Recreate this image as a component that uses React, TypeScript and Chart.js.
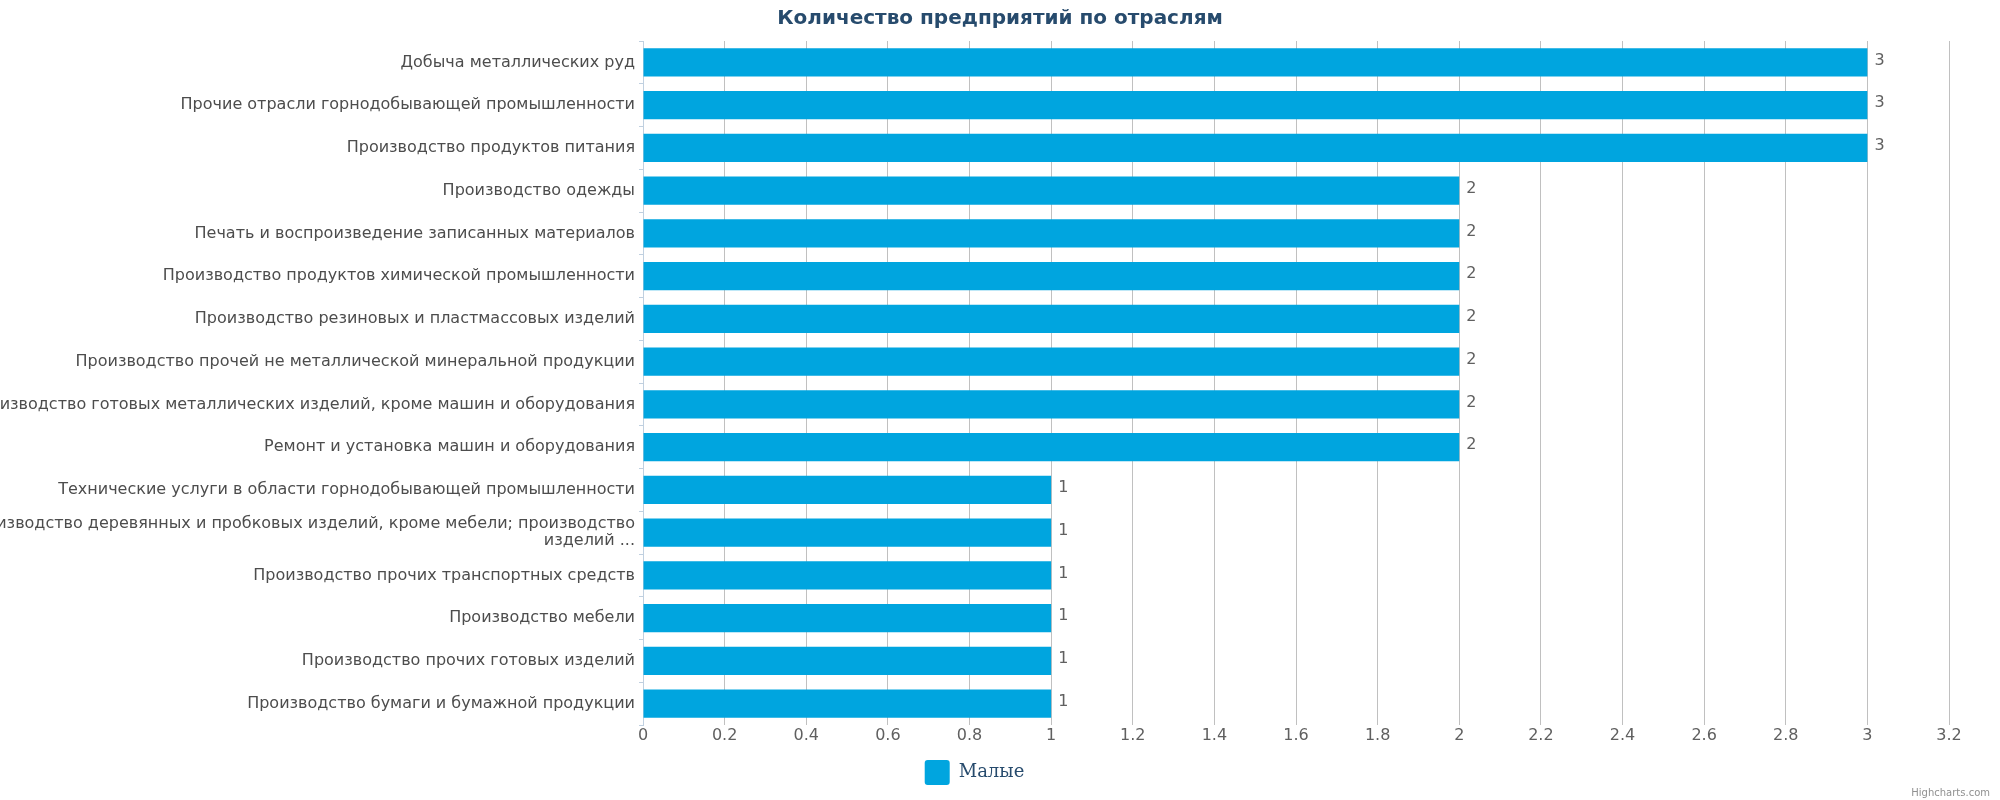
import React, { useEffect, useRef } from "react";
import { Chart, registerables } from "chart.js";

Chart.register(...registerables);

const chartTitle = "Количество предприятий по отраслям";
const seriesName = "Малые";
const creditText = "Highcharts.com";

const categories: (string | string[])[] = [
  "Добыча металлических руд",
  "Прочие отрасли горнодобывающей промышленности",
  "Производство продуктов питания",
  "Производство одежды",
  "Печать и воспроизведение записанных материалов",
  "Производство продуктов химической промышленности",
  "Производство резиновых и пластмассовых изделий",
  "Производство прочей не металлической минеральной продукции",
  "Производство готовых металлических изделий, кроме машин и оборудования",
  "Ремонт и установка машин и оборудования",
  "Технические услуги в области горнодобывающей промышленности",
  ["Производство деревянных и пробковых изделий, кроме мебели; производство", "изделий ..."],
  "Производство прочих транспортных средств",
  "Производство мебели",
  "Производство прочих готовых изделий",
  "Производство бумаги и бумажной продукции",
];

const values: number[] = [3, 3, 3, 2, 2, 2, 2, 2, 2, 2, 1, 1, 1, 1, 1, 1];

const xMin = 0;
const xMax = 3.2;
const xStep = 0.2;

const barColor = "#00A5DF";

const extrasPlugin = {
  id: "extras",
  afterDatasetsDraw(chart: any) {
    const ctx = chart.ctx;
    const meta = chart.getDatasetMeta(0);
    ctx.save();
    ctx.font = '16px "DejaVu Sans"';
    ctx.fillStyle = "#606060";
    ctx.textAlign = "left";
    ctx.textBaseline = "middle";
    meta.data.forEach((el: any, i: number) => {
      ctx.fillText(String(values[i]), el.x + 7, el.y - 2);
    });
    ctx.restore();
  },
  afterDraw(chart: any) {
    const ctx = chart.ctx;
    ctx.save();
    ctx.font = 'bold 20px "DejaVu Sans"';
    ctx.fillStyle = "#274b6d";
    ctx.textAlign = "center";
    ctx.textBaseline = "middle";
    ctx.fillText(chartTitle, 1000, 19);
    ctx.font = '10px "DejaVu Sans"';
    ctx.fillStyle = "#909090";
    ctx.textAlign = "right";
    ctx.textBaseline = "alphabetic";
    ctx.fillText(creditText, 1990, 796);
    ctx.restore();
  },
};

export default function App() {
  const ref = useRef<HTMLCanvasElement | null>(null);
  useEffect(() => {
    if (!ref.current) return;
    const chart = new Chart(ref.current, {
      type: "bar",
      data: {
        labels: categories,
        datasets: [
          {
            label: seriesName,
            data: values,
            backgroundColor: barColor,
            borderColor: barColor,
            borderWidth: 0,
            borderRadius: 0,
            barPercentage: 0.66,
            categoryPercentage: 1,
          },
        ],
      },
      options: {
        indexAxis: "y",
        responsive: false,
        animation: false,
        layout: { padding: { top: 41, right: 51, left: 0, bottom: 5 } },
        plugins: {
          title: { display: false },
          tooltip: { enabled: false },
          legend: {
            display: true,
            position: "bottom",
            labels: {
              boxWidth: 25,
              boxHeight: 25,
              padding: 10,
              useBorderRadius: true,
              borderRadius: 3,
              color: "#274b6d",
              font: { family: '"DejaVu Serif"', size: 18 },
              generateLabels: () => [
                {
                  text: seriesName,
                  fillStyle: barColor,
                  strokeStyle: barColor,
                  lineWidth: 0,
                  fontColor: "#274b6d",
                  hidden: false,
                  datasetIndex: 0,
                  borderRadius: 3,
                },
              ],
            },
          },
        },
        scales: {
          x: {
            type: "linear",
            min: xMin,
            max: xMax,
            ticks: {
              stepSize: xStep,
              padding: 1,
              color: "#606060",
              font: { family: '"DejaVu Sans"', size: 16 },
              callback: (v: any) => String(Number(Number(v).toFixed(1))),
            },
            grid: { color: "#c0c0c0", lineWidth: 1, drawTicks: false },
            border: { display: false },
            afterFit: (s: any) => {
              s.height = 25;
            },
          },
          y: {
            type: "category",
            ticks: {
              autoSkip: false,
              padding: 4,
              color: "#4d4d4d",
              font: { family: '"DejaVu Sans"', size: 16, lineHeight: 1.05 },
            },
            grid: {
              offset: true,
              drawOnChartArea: false,
              drawTicks: true,
              tickLength: 4,
              color: "#c0d0e0",
            },
            border: { display: true, color: "#c0d0e0", width: 1 },
            afterFit: (s: any) => {
              s.width = 643;
            },
          },
        },
      },
      plugins: [extrasPlugin],
    } as any);
    return () => chart.destroy();
  }, []);
  return (
    <div style={{ position: "absolute", left: 0, top: 0, width: 2000, height: 800, background: "#fff" }}>
      <canvas ref={ref} width={2000} height={800} style={{ display: "block", width: 2000, height: 800 }} />
    </div>
  );
}
